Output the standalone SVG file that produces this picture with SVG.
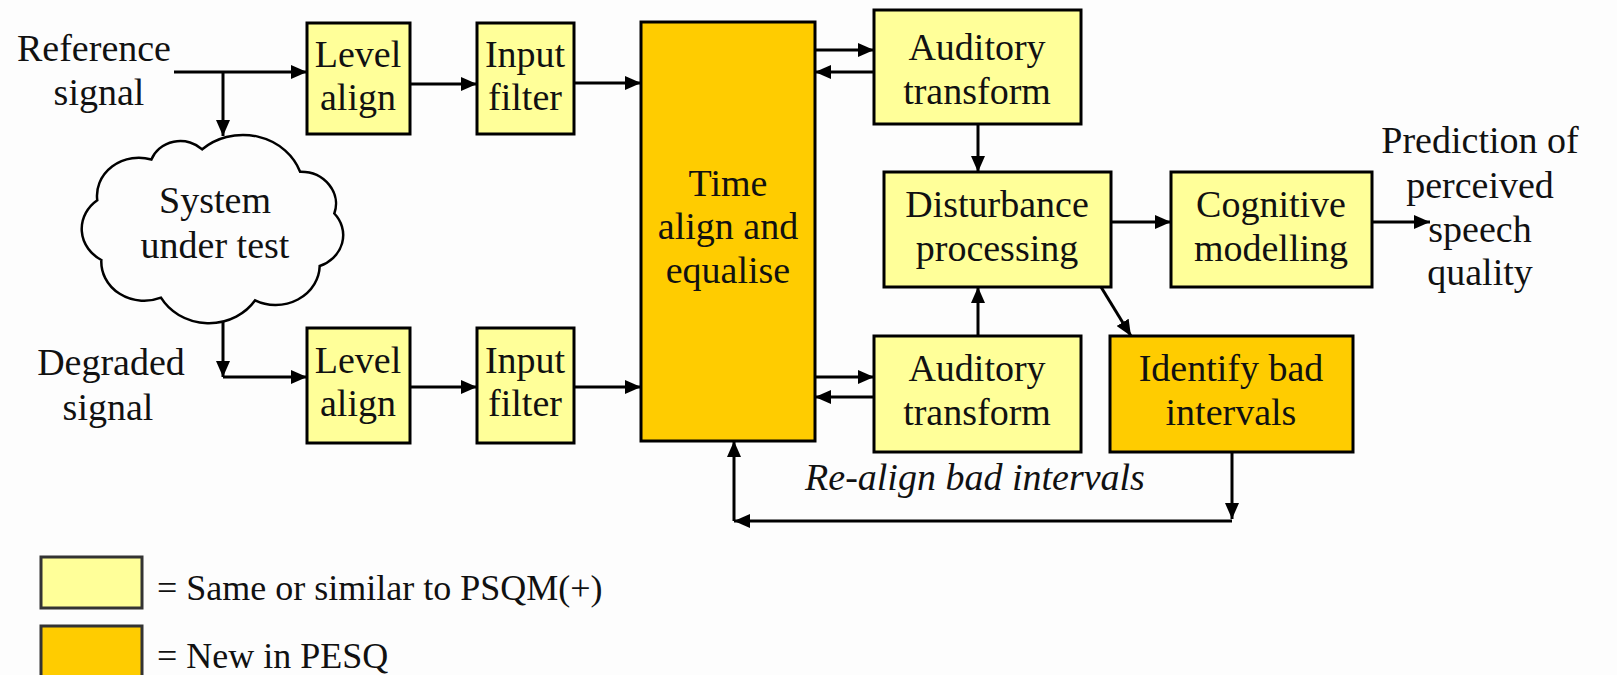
<svg xmlns="http://www.w3.org/2000/svg" width="1617" height="675" viewBox="0 0 1617 675" font-family="Liberation Serif, 'Times New Roman', serif" font-size="38">
<style>
.bg{fill:#fdfdfd}
.y{fill:#ffff99;stroke:#000;stroke-width:3}
.o{fill:#ffcc00;stroke:#000;stroke-width:3}
text{fill:#111}
.t{text-anchor:middle}
.i{font-style:italic}
.lg{font-size:36px}
.c line{stroke:#000;stroke-width:3;fill:none}
</style>
<defs>
<marker id="ah" viewBox="0 0 16 14" refX="16" refY="7" markerWidth="16" markerHeight="14" orient="auto" markerUnits="userSpaceOnUse"><path d="M0,0 L16,7 L0,14 z" fill="#000"/></marker>
</defs>
<rect class="bg" x="0" y="0" width="1617" height="675"/>

<g id="lbl-ref"><text class="t" x="94" y="61">Reference</text><text class="t" x="99" y="105">signal</text></g>
<g id="lbl-deg"><text class="t" x="111" y="375">Degraded</text><text class="t" x="108" y="420">signal</text></g>

<g id="cloud">
<path transform="translate(213,0) scale(1.1,1) translate(-213,0)" vector-effect="non-scaling-stroke" d="M203.2,149.3 A55,55 0 0 1 292.2,171.8 A32,32 0 0 1 323.3,213.5 A33,33 0 0 1 310,266 A40,40 0 0 1 251.3,300.3 A50,50 0 0 1 165.7,297.7 A39,39 0 0 1 111.5,260 A36,36 0 0 1 107.8,200.3 A38,38 0 0 1 157,159.5 A28,28 0 0 1 203.2,149.3 Z" fill="#fdfdfd" stroke="#000" stroke-width="2.5"/>
<text class="t" x="215" y="213">System</text><text class="t" x="215" y="258">under test</text>
</g>

<g id="level1"><rect class="y" x="307" y="23" width="103" height="111"/><text class="t" x="358" y="67">Level</text><text class="t" x="358" y="110">align</text></g>
<g id="input1"><rect class="y" x="477" y="23" width="97" height="111"/><text class="t" x="525" y="67">Input</text><text class="t" x="525" y="110">filter</text></g>
<g id="level2"><rect class="y" x="307" y="328" width="103" height="115"/><text class="t" x="358" y="373">Level</text><text class="t" x="358" y="416">align</text></g>
<g id="input2"><rect class="y" x="477" y="328" width="97" height="115"/><text class="t" x="525" y="373">Input</text><text class="t" x="525" y="416">filter</text></g>

<g id="time"><rect class="o" x="641" y="22" width="174" height="419"/><text class="t" x="728" y="196">Time</text><text class="t" x="728" y="239">align and</text><text class="t" x="728" y="283">equalise</text></g>

<g id="aud1"><rect class="y" x="874" y="10" width="207" height="114"/><text class="t" x="977" y="60">Auditory</text><text class="t" x="977" y="104">transform</text></g>
<g id="dist"><rect class="y" x="884" y="172" width="227" height="115"/><text class="t" x="997" y="217">Disturbance</text><text class="t" x="997" y="261">processing</text></g>
<g id="cog"><rect class="y" x="1171" y="172" width="201" height="115"/><text class="t" x="1271" y="217">Cognitive</text><text class="t" x="1271" y="261">modelling</text></g>
<g id="aud2"><rect class="y" x="874" y="336" width="207" height="116"/><text class="t" x="977" y="381">Auditory</text><text class="t" x="977" y="425">transform</text></g>
<g id="ident"><rect class="o" x="1110" y="336" width="243" height="116"/><text class="t" x="1231" y="381">Identify bad</text><text class="t" x="1231" y="425">intervals</text></g>

<g id="lbl-out"><text class="t" x="1480" y="153">Prediction of</text><text class="t" x="1480" y="198">perceived</text><text class="t" x="1480" y="242">speech</text><text class="t" x="1480" y="285">quality</text></g>
<g id="lbl-realign"><text class="t i" x="975" y="490">Re-align bad intervals</text></g>

<g class="c" id="connectors">
<line x1="174" y1="72" x2="307" y2="72" marker-end="url(#ah)"/>
<line x1="223" y1="72" x2="223" y2="136" marker-end="url(#ah)"/>
<line x1="410" y1="84" x2="477" y2="84" marker-end="url(#ah)"/>
<line x1="574" y1="83" x2="641" y2="83" marker-end="url(#ah)"/>
<line x1="223" y1="322" x2="223" y2="377" marker-end="url(#ah)"/>
<line x1="223" y1="377" x2="307" y2="377" marker-end="url(#ah)"/>
<line x1="410" y1="387" x2="477" y2="387" marker-end="url(#ah)"/>
<line x1="574" y1="387" x2="641" y2="387" marker-end="url(#ah)"/>
<line x1="815" y1="50" x2="874" y2="50" marker-end="url(#ah)"/>
<line x1="874" y1="72" x2="815" y2="72" marker-end="url(#ah)"/>
<line x1="978" y1="124" x2="978" y2="172" marker-end="url(#ah)"/>
<line x1="1111" y1="222" x2="1171" y2="222" marker-end="url(#ah)"/>
<line x1="1372" y1="222" x2="1430" y2="222" marker-end="url(#ah)"/>
<line x1="978" y1="336" x2="978" y2="287" marker-end="url(#ah)"/>
<line x1="1101" y1="287" x2="1131" y2="336" marker-end="url(#ah)"/>
<line x1="815" y1="377" x2="874" y2="377" marker-end="url(#ah)"/>
<line x1="874" y1="397" x2="815" y2="397" marker-end="url(#ah)"/>
<line x1="1232" y1="452" x2="1232" y2="519" marker-end="url(#ah)"/>
<line x1="1232" y1="521" x2="734" y2="521" marker-end="url(#ah)"/>
<line x1="734" y1="521" x2="734" y2="441" marker-end="url(#ah)"/>
</g>

<g id="legend">
<rect x="41" y="557" width="101" height="51" fill="#ffff99" stroke="#333" stroke-width="3"/>
<text class="lg" x="157" y="600">= Same or similar to PSQM(+)</text>
<rect x="41" y="626" width="101" height="60" fill="#ffcc00" stroke="#333" stroke-width="3"/>
<text class="lg" x="157" y="668">= New in PESQ</text>
</g>
</svg>
